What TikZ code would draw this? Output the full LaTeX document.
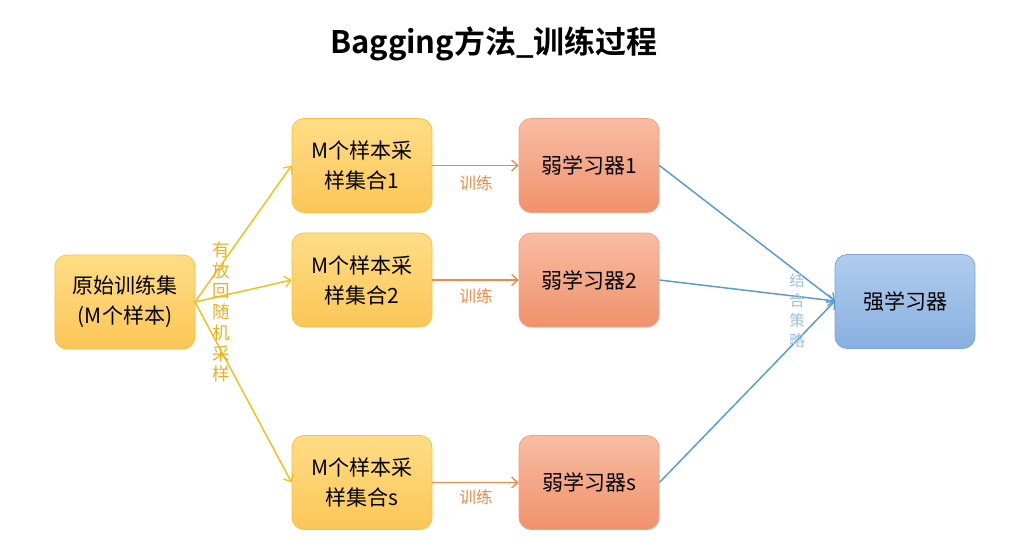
\documentclass[tikz,border=0pt]{standalone}
\usepackage{fontspec}
\setmainfont{Noto Sans CJK SC}
\newfontfamily\cjkbold[BoldFont={Noto Sans CJK SC Bold}]{Noto Sans CJK SC}
\usetikzlibrary{arrows.meta}
\definecolor{ylwA}{HTML}{FFDD85}
\definecolor{ylwB}{HTML}{FBC657}
\definecolor{ylwD}{HTML}{F5C242}
\definecolor{orgA}{HTML}{F8BDA3}
\definecolor{orgB}{HTML}{F0916C}
\definecolor{orgD}{HTML}{EFA184}
\definecolor{bluA}{HTML}{B0CDEE}
\definecolor{bluB}{HTML}{88B0DF}
\definecolor{bluD}{HTML}{7FA6D6}
\definecolor{ylwArrow}{HTML}{F2C01E}
\definecolor{ylwText}{HTML}{EAB020}
\definecolor{orgArrow}{HTML}{EE8A45}
\definecolor{orgText}{HTML}{EE8A45}
\definecolor{bluArrow}{HTML}{5B9BD5}
\definecolor{bluText}{HTML}{9DBEE3}
\tikzset{
  x=1pt, y=-1pt,
  box/.style={minimum width=140pt, minimum height=94pt, rounded corners=12pt, align=center,
    font=\fontsize{21}{30}\selectfont, text=black, line width=0.8pt},
  ybox/.style={box, draw=ylwD, top color=ylwA, bottom color=ylwB},
  obox/.style={box, draw=orgD, top color=orgA, bottom color=orgB},
  bbox/.style={box, draw=bluD, top color=bluA, bottom color=bluB},
  tip/.style={-{Straight Barb[length=6pt,width=11pt,line width=1.3pt]}},
  yarr/.style={tip, draw=ylwArrow, line width=1.5pt},
  oarr/.style={tip, draw=orgArrow, line width=1.5pt},
  barr/.style={tip, draw=bluArrow, line width=1.5pt},
  trainlbl/.style={text=orgText, font=\fontsize{16.5}{18}\selectfont},
}
\begin{document}
\begin{tikzpicture}
\useasboundingbox (0,0) rectangle (1028,559);
\node[font=\cjkbold\bfseries\fontsize{31}{36}\selectfont] (title) at (494,44) {Bagging方法\_训练过程};

\node[ybox] (orig) at (125,302) {原始训练集\\(M个样本)};
\node[ybox] (s1) at (362,165.5) {M个样本采\\样集合1};
\node[ybox] (s2) at (362,280) {M个样本采\\样集合2};
\node[ybox] (ss) at (362,482.5) {M个样本采\\样集合s};
\node[obox] (w1) at (589,165.5) {弱学习器1};
\node[obox] (w2) at (589,280) {弱学习器2};
\node[obox] (ws) at (589,482.5) {弱学习器s};
\node[bbox] (strong) at (905,301.5) {强学习器};

\coordinate (o) at (195,302);
\draw[yarr] (o) -- (s1.west);
\draw[yarr] (o) -- (s2.west);
\draw[yarr] (o) -- (ss.west);

\draw[oarr] (s1.east) -- (w1.west);
\draw[oarr] (s2.east) -- (w2.west);
\draw[oarr] (ss.east) -- (ws.west);
\node[trainlbl] (t1) at (476,183) {训练};
\node[trainlbl] (t2) at (476,296) {训练};
\node[trainlbl] (t3) at (476,497) {训练};

\coordinate (si) at (835,301);
\draw[barr] (w1.east) -- (si);
\draw[barr] (w2.east) -- (si);
\draw[barr] (ws.east) -- (si);

\node[text=ylwText, align=center, font=\fontsize{17.5}{20.7}\selectfont] (vl) at (221,312) {有\\放\\回\\随\\机\\采\\样};
\node[text=bluText, align=center, font=\fontsize{15.5}{20}\selectfont] (vr) at (797,311) {结\\合\\策\\略};
\end{tikzpicture}
\end{document}
